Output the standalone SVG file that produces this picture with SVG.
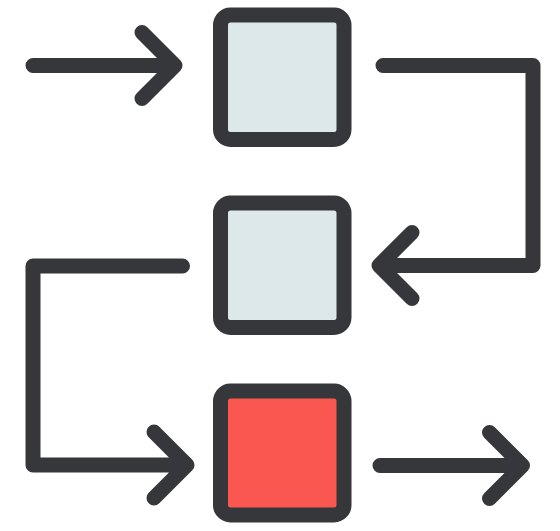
<svg xmlns="http://www.w3.org/2000/svg" width="560" height="531" viewBox="0 0 560 531">
<style>
.box{stroke:#36373a;stroke-width:15;stroke-linejoin:round}
.light{fill:#dde8ea}
.red{fill:#f9574f}
.line{fill:none;stroke:#36373a;stroke-width:15;stroke-linecap:round;stroke-linejoin:round}
</style>
<rect width="560" height="531" fill="#ffffff"/>
<g id="node-top"><rect class="box light" x="220.5" y="15" width="123.5" height="124.5" rx="10"/></g>
<g id="node-middle"><rect class="box light" x="220.5" y="203" width="123.5" height="124.5" rx="10"/></g>
<g id="node-bottom"><rect class="box red" x="220.5" y="391" width="123.5" height="124" rx="10"/></g>
<g id="connectors">
<path class="line" d="M33 65.5 H175 M142 32.5 L175 65.5 L142 98.5"/>
<path class="line" d="M383 65.5 H533 V265.5 H379 M412 232.5 L379 265.5 L412 298.5"/>
<path class="line" d="M182.5 266 H33 V465 H187 M154 432 L187 465 L154 498"/>
<path class="line" d="M380 465.5 H522.5 M489.5 432.5 L522.5 465.5 L489.5 498.5"/>
</g>
</svg>
